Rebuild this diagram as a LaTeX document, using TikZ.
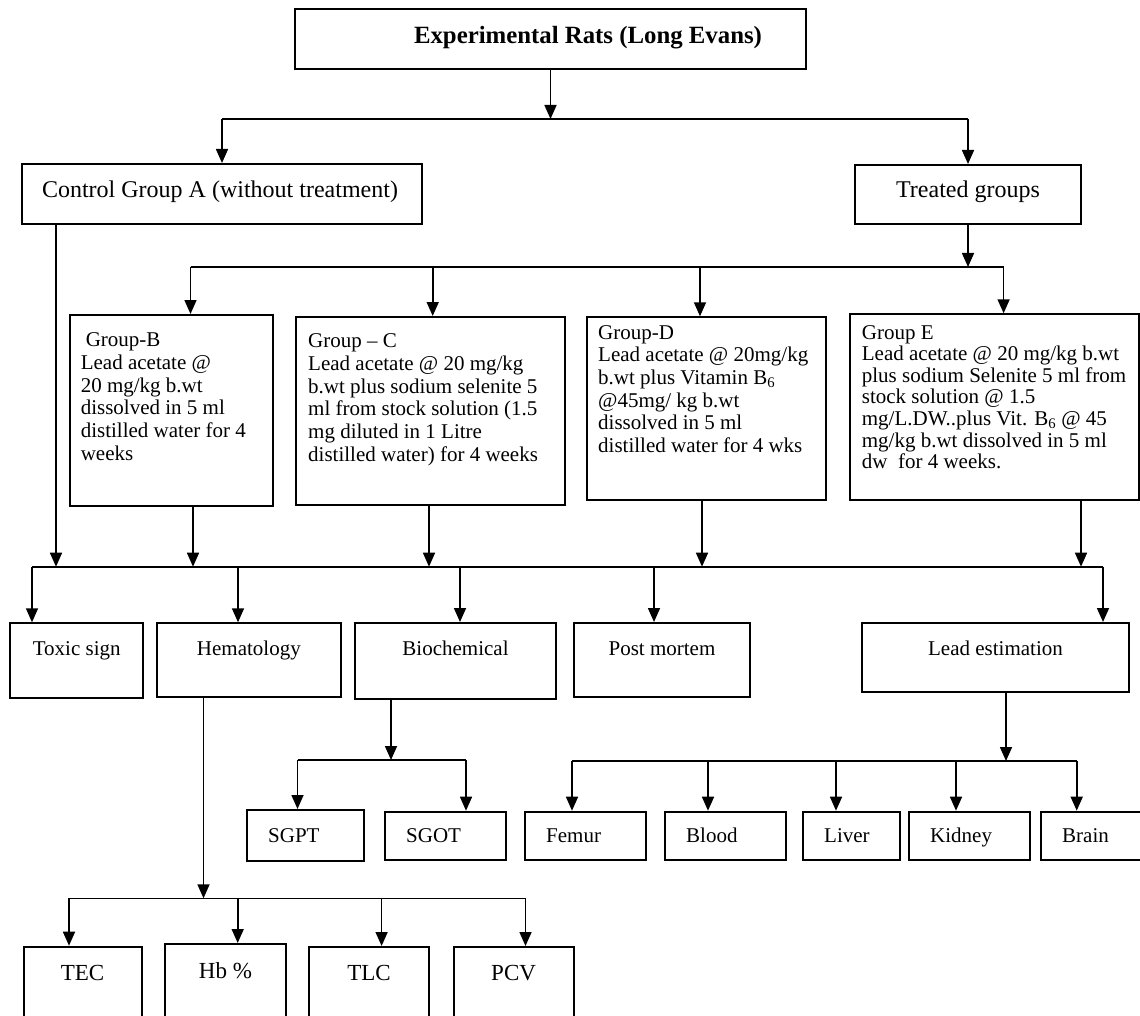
\documentclass[tikz,border=0pt]{standalone}
\usepackage{fontspec}
\setmainfont{Liberation Serif}
\usetikzlibrary{arrows.meta,fit}
\begin{document}
\begin{tikzpicture}[x=1pt,y=-1pt,
  conn/.style={line width=1.6pt},
  arr/.style={conn,-{Triangle[width=12pt,length=14pt]}},
  box/.style={draw,line width=2pt,inner sep=0pt},
  bigtext/.style={font=\fontsize{24}{28}\selectfont},
  grptext/.style={font=\fontsize{21}{22.7}\selectfont,inner sep=0pt,align=left,anchor=base west},
  labc/.style={font=\fontsize{21}{24}\selectfont,inner sep=0pt,anchor=base},
  labl/.style={font=\fontsize{21}{24}\selectfont,inner sep=0pt,anchor=base west},
  labb/.style={font=\fontsize{23}{26}\selectfont,inner sep=0pt,anchor=base},
]
\clip (0,0) rectangle (1140,1016);
\fill[white] (0,0) rectangle (1140,1016);
% top level
\node[box,fit={(295,9) (806,69)}] (T) {};
\node[inner sep=0pt,font=\fontsize{24.8}{28}\selectfont] (Tt) at (588,38) {\bfseries Experimental Rats (Long Evans)};
\node[box,fit={(22,164) (422,224)}] (A) {};
\node[bigtext,inner sep=0pt] (At) at (220,192) {Control Group A (without treatment)};
\node[box,fit={(855,165) (1081,224)}] (TG) {};
\node[bigtext,inner sep=0pt] (TGt) at (968,192) {Treated groups};
% groups (anchor: baseline of the last line)
\node[box,fit={(69.5,315) (273,506)}] (B) {};
\node[grptext] (Bt) at (80.6,460.2) {\hspace*{5pt}Group-B\\Lead acetate @\\20 mg/kg b.wt\\dissolved in 5 ml\\distilled water for 4\\weeks};
\node[box,fit={(296,317) (565,505)}] (C) {};
\node[grptext] (Ct) at (308,461.2) {Group – C\\Lead acetate @ 20 mg/kg\\b.wt plus sodium selenite 5\\ml from stock solution (1.5\\mg diluted in 1 Litre\\distilled water) for 4 weeks};
\node[box,fit={(586.7,317.3) (826,500)}] (D) {};
\node[grptext] (Dt) at (598,452.5) {Group-D\\Lead acetate @ 20mg/kg\\b.wt plus Vitamin B\textsubscript{6}\\@45mg/ kg b.wt\\dissolved in 5 ml\\distilled water for 4 wks};
\node[box,fit={(850,314.3) (1139,500)}] (E) {};
\node[grptext,font=\fontsize{21}{21.6}\selectfont] (Et) at (861.7,468.6) {Group E\\Lead acetate @ 20 mg/kg b.wt\\plus sodium Selenite 5 ml from\\stock solution @ 1.5\\mg/L.DW..plus Vit. B\textsubscript{6} @ 45\\mg/kg b.wt dissolved in 5 ml\\dw\ \ for 4 weeks.};
% analyses
\node[box,fit={(10,623.3) (143.3,698)}] (TOX) {};
\node[labc] (TOXt) at (76.7,655) {Toxic sign};
\node[box,fit={(156.7,623.3) (341,697.3)}] (HEM) {};
\node[labc] (HEMt) at (248.9,655) {Hematology};
\node[box,fit={(355,623) (556,699)}] (BIO) {};
\node[labc] (BIOt) at (455.5,655) {Biochemical};
\node[box,fit={(574,623) (750,697)}] (PM) {};
\node[labc] (PMt) at (662,655) {Post mortem};
\node[box,fit={(862,623) (1129,692)}] (LE) {};
\node[labc] (LEt) at (995.5,655) {Lead estimation};
% biochemical sub
\node[box,fit={(247,810) (363.6,861)}] (SGPT) {};
\node[labl] (SGPTt) at (268,842) {SGPT};
\node[box,fit={(385,811.7) (506,860)}] (SGOT) {};
\node[labl] (SGOTt) at (406,842) {SGOT};
% lead sub
\node[box,fit={(525,811.7) (645.7,860)}] (FEM) {};
\node[labl] (FEMt) at (546,842) {Femur};
\node[box,fit={(665,811.7) (785.7,860)}] (BLO) {};
\node[labl] (BLOt) at (686,842) {Blood};
\node[box,fit={(803,811.7) (900,860)}] (LIV) {};
\node[labl] (LIVt) at (824,842) {Liver};
\node[box,fit={(909,811.7) (1030,860)}] (KID) {};
\node[labl] (KIDt) at (930,842) {Kidney};
\node[box,fit={(1041,811.7) (1150,860)}] (BRA) {};
\node[labl] (BRAt) at (1062,842) {Brain};
% hematology sub
\node[box,fit={(23.7,946.7) (141.6,1040)}] (TEC) {};
\node[labb] (TECt) at (82.6,980) {TEC};
\node[box,fit={(165,944) (286,1040)}] (HB) {};
\node[labb] (HBt) at (225.5,978) {Hb \%};
\node[box,fit={(309,947) (429,1040)}] (TLC) {};
\node[labb] (TLCt) at (369,980) {TLC};
\node[box,fit={(453.5,947) (573.7,1040)}] (PCV) {};
\node[labb] (PCVt) at (513.6,980) {PCV};
% connectors level 1
\coordinate (b1) at (550.5,119);
\draw[arr] (T.south) -- (b1);
\draw[conn] (A.north |- b1) -- (TG.north |- b1);
\draw[arr] (A.north |- b1) -- (A.north);
\draw[arr] (TG.north |- b1) -- (TG.north);
% level 2
\coordinate (b2L) at (190.5,267);
\coordinate (b2R) at (1003.6,267);
\coordinate (b2C) at (432.7,267);
\coordinate (b2D) at (700,267);
\draw[arr] (TG.south) -- (TG.south |- b2L);
\draw[conn] (b2L) -- (b2R);
\draw[arr] (b2L) -- (B.north -| b2L);
\draw[arr] (b2C) -- (C.north -| b2C);
\draw[arr] (b2D) -- (D.north -| b2D);
\draw[arr] (b2R) -- (E.north -| b2R);
% level 3
\coordinate (b3L) at (32,566.7);
\coordinate (b3R) at (1103,566.7);
\coordinate (i3A) at (56,566.7);
\coordinate (i3B) at (193,566.7);
\coordinate (i3C) at (429,566.7);
\coordinate (i3D) at (702,566.7);
\coordinate (i3E) at (1081,566.7);
\coordinate (o3H) at (238,566.7);
\coordinate (o3B) at (460,566.7);
\coordinate (o3P) at (654,566.7);
\draw[arr] (A.south -| i3A) -- (i3A);
\draw[arr] (B.south -| i3B) -- (i3B);
\draw[arr] (C.south -| i3C) -- (i3C);
\draw[arr] (D.south -| i3D) -- (i3D);
\draw[arr] (E.south -| i3E) -- (i3E);
\draw[conn] (b3L) -- (b3R);
\draw[arr] (b3L) -- (TOX.north -| b3L);
\draw[arr] (o3H) -- (HEM.north -| o3H);
\draw[arr] (o3B) -- (BIO.north -| o3B);
\draw[arr] (o3P) -- (PM.north -| o3P);
\draw[arr] (b3R) -- (LE.north -| b3R);
% biochemical
\coordinate (b4) at (391,760);
\coordinate (b4L) at (297.5,760);
\coordinate (b4R) at (466,760);
\draw[arr] (BIO.south -| b4) -- (b4);
\draw[conn] (b4L) -- (b4R);
\draw[arr] (b4L) -- (SGPT.north -| b4L);
\draw[arr] (b4R) -- (SGOT.north -| b4R);
% lead estimation
\coordinate (b5) at (1006,761);
\coordinate (b5a) at (572,761);
\coordinate (b5b) at (708,761);
\coordinate (b5c) at (836,761);
\coordinate (b5d) at (956,761);
\coordinate (b5e) at (1076.7,761);
\draw[arr] (LE.south -| b5) -- (b5);
\draw[conn] (b5a) -- (b5e);
\draw[arr] (b5a) -- (FEM.north -| b5a);
\draw[arr] (b5b) -- (BLO.north -| b5b);
\draw[arr] (b5c) -- (LIV.north -| b5c);
\draw[arr] (b5d) -- (KID.north -| b5d);
\draw[arr] (b5e) -- (BRA.north -| b5e);
% hematology
\coordinate (b6) at (203.5,898.3);
\coordinate (b6a) at (69,898.3);
\coordinate (b6b) at (237.7,898.3);
\coordinate (b6c) at (381.6,898.3);
\coordinate (b6d) at (525.5,898.3);
\draw[arr] (HEM.south -| b6) -- (b6);
\draw[conn] (b6a) -- (b6d);
\draw[arr] (b6a) -- (TEC.north -| b6a);
\draw[arr] (b6b) -- (HB.north -| b6b);
\draw[arr] (b6c) -- (TLC.north -| b6c);
\draw[arr] (b6d) -- (PCV.north -| b6d);
\end{tikzpicture}
\end{document}
